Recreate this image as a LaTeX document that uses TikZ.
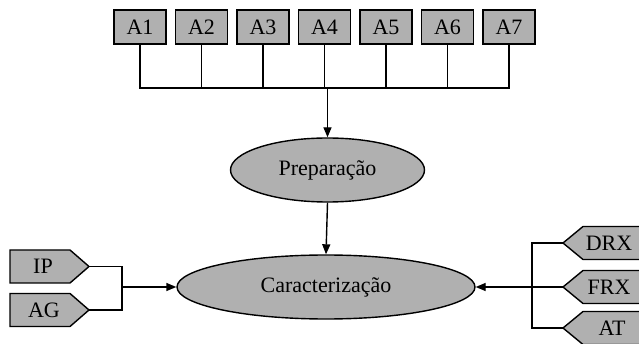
\documentclass[tikz,border=0pt]{standalone}
\usepackage{fontspec}
\setmainfont{Liberation Serif}
\usetikzlibrary{shapes.geometric,arrows.meta}
\definecolor{boxgray}{RGB}{176,176,176}
\tikzset{
  every node/.style={font=\fontsize{22}{26}\selectfont},
  abox/.style={draw, line width=1.4pt, fill=boxgray, minimum width=52pt, minimum height=34pt, inner sep=0pt},
  ell/.style={draw, line width=1.4pt, fill=boxgray, ellipse, inner sep=0pt},
  tag/.style={draw, line width=1.4pt, fill=boxgray},
  conn/.style={line width=1.4pt},
  arr/.style={line width=1.4pt, -{Triangle[length=10pt,width=8pt]}},
  lbl/.style={inner sep=0pt}
}
\begin{document}
\begin{tikzpicture}[x=1pt,y=-1pt]
\useasboundingbox (0,0) rectangle (639,344);
\clip (0,0) rectangle (639,344);
\fill[white] (0,0) rectangle (639,344);
% top boxes
\node[abox] (a1) at (140,27) {A1};
\node[abox] (a2) at (201.5,27) {A2};
\node[abox] (a3) at (263,27) {A3};
\node[abox] (a4) at (324.5,27) {A4};
\node[abox] (a5) at (386,27) {A5};
\node[abox] (a6) at (447.5,27) {A6};
\node[abox] (a7) at (509,27) {A7};
% ellipses
\node[ell, minimum width=194pt, minimum height=64pt] (prep) at (327.5,170) {Preparação};
\node[ell, minimum width=298pt, minimum height=64pt] (carac) at (326,287) {Caracterização};
% joints
\coordinate (j) at (327.5,88);
\coordinate (lj) at (122,287);
\coordinate (rj) at (532,287);
% left tags
\coordinate (iptip) at (89,266.5);
\coordinate (agtip) at (89,310);
\draw[tag] (10,250) -- (70,250) -- (iptip) -- (70,283) -- (10,283) -- cycle;
\draw[tag] (10,293.5) -- (70,293.5) -- (agtip) -- (70,326.5) -- (10,326.5) -- cycle;
\node[lbl] (ip) at (43,266.5) {IP};
\node[lbl] (ag) at (44,310) {AG};
% right tags
\coordinate (drxtip) at (563,243);
\coordinate (frxtip) at (563,287);
\coordinate (attip) at (563,328);
\draw[tag] (drxtip) -- (583,226.5) -- (650,226.5) -- (650,259.5) -- (583,259.5) -- cycle;
\draw[tag] (frxtip) -- (583,270.5) -- (650,270.5) -- (650,303.5) -- (583,303.5) -- cycle;
\draw[tag] (attip) -- (583,311.5) -- (650,311.5) -- (650,344.5) -- (583,344.5) -- cycle;
\node[lbl] (drx) at (609,243) {DRX};
\node[lbl] (frx) at (609,287) {FRX};
\node[lbl] (at) at (612,328) {AT};
% top connectors
\draw[conn] (a1.south) |- (j) -| (a7.south);
\draw[conn] (j) -| (a2.south);
\draw[conn] (j) -| (a3.south);
\draw[conn] (j) -| (a4.south);
\draw[conn] (j) -| (a5.south);
\draw[conn] (j) -| (a6.south);
\draw[arr] (j) -- (prep.north);
\draw[arr] (prep.south) -- (carac.north);
% left connectors
\draw[conn] (iptip) -| (lj);
\draw[conn] (agtip) -| (lj);
\draw[arr] (lj) -- (carac.west);
% right connectors
\draw[conn] (drxtip) -| (rj);
\draw[conn] (attip) -| (rj);
\draw[arr] (frxtip) -- (carac.east);
\end{tikzpicture}
\end{document}
